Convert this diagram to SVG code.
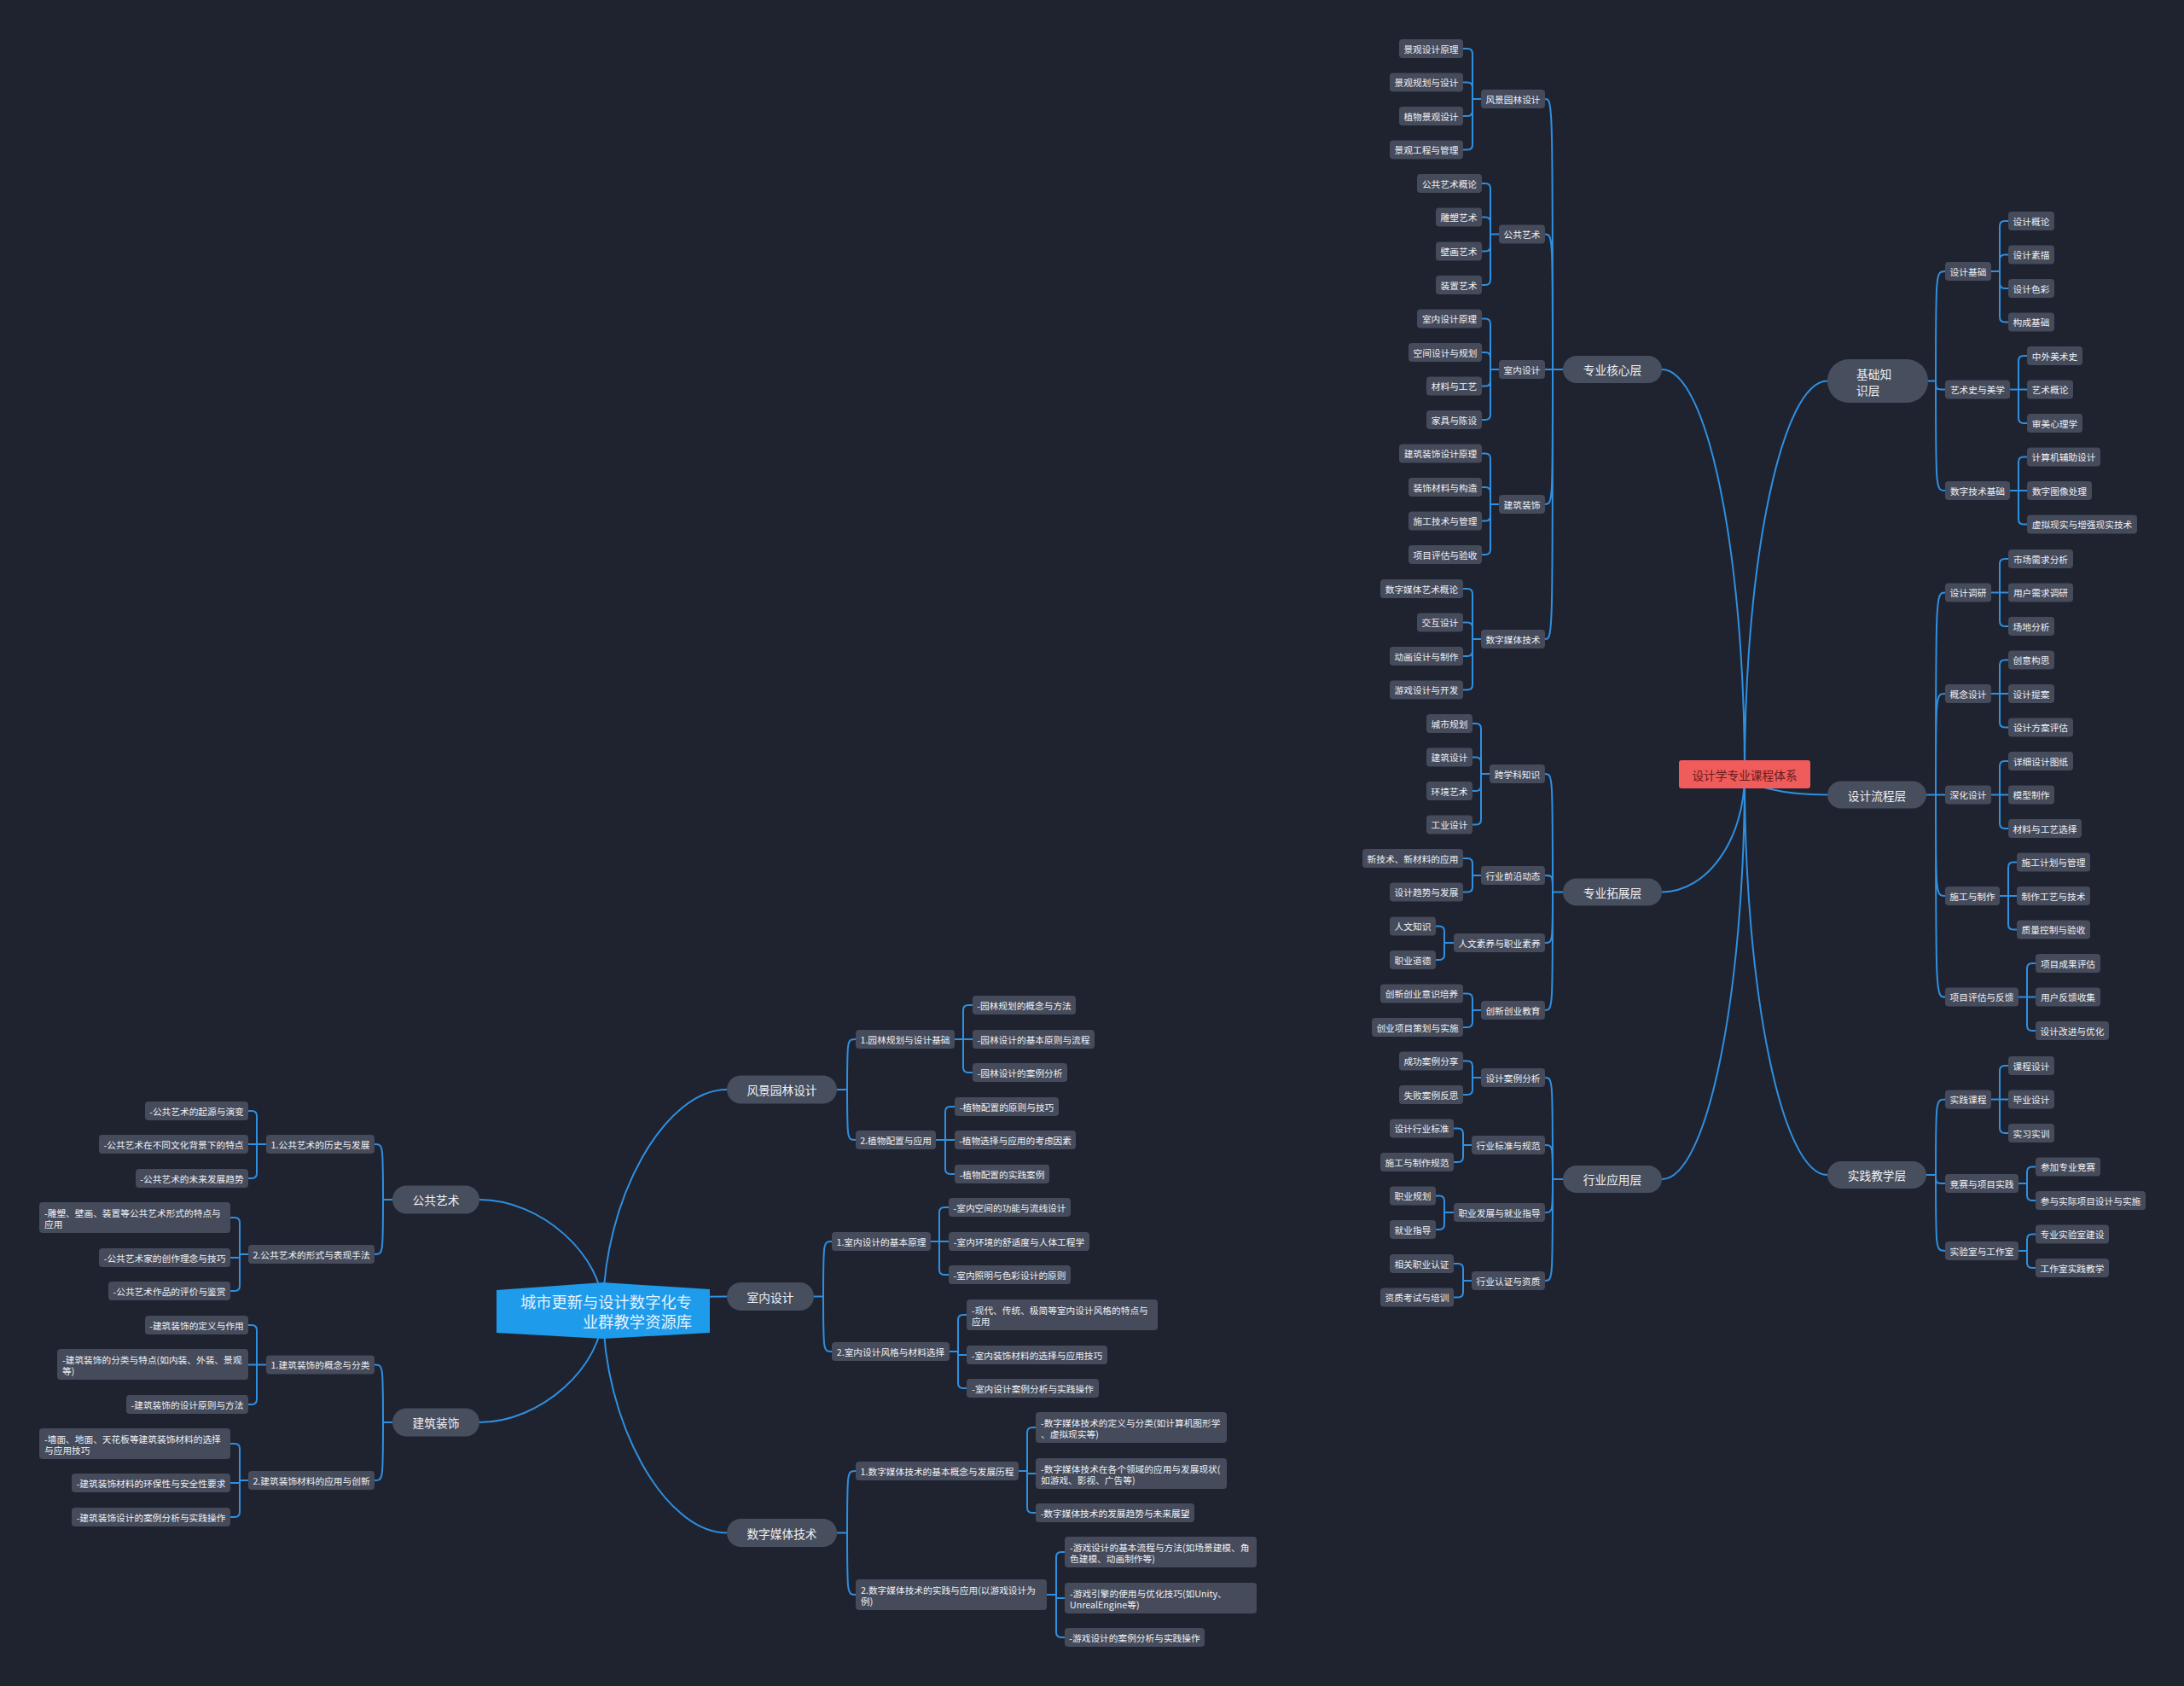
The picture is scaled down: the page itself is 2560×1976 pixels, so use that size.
<svg xmlns="http://www.w3.org/2000/svg" width="2560" height="1976" viewBox="0 0 2560 1976">
<style>
.bg{fill:#1f2330}
#connectors path{fill:none;stroke:#2f8fe0;stroke-width:2}
text{font-family:"Noto Sans CJK SC","Noto Sans",sans-serif;fill:#eef0f4;dominant-baseline:central}
.n rect,.w rect{fill:#454b5b}
.n text{font-size:10.7px;text-anchor:middle}
.w text{font-size:10.7px}
.p rect{fill:#474e5e}
.p text{font-size:13.7px;text-anchor:middle}
.pl text{font-size:13.7px}
</style>
<rect class="bg" x="0" y="0" width="2560" height="1976"/>
<g id="connectors">
<path d="M2045 907.5C2045 646 2001 433 1948 433"/>
<path d="M2045 907.5C2045 984 2001 1045.5 1948 1045.5"/>
<path d="M2045 907.5C2045 1167 2001 1382 1948 1382"/>
<path d="M2045 907.5C2045 655 2089 446.5 2142 446.5"/>
<path d="M2045 907.5C2045 921 2089 931.5 2142 931.5"/>
<path d="M2045 907.5C2045 1165 2089 1377 2142 1377"/>
<path d="M1832 433H1811M1820 433C1820 116 1820 116 1811 116M1820 433C1820 274.5 1820 274.5 1811 274.5M1820 433C1820 591 1820 591 1811 591M1820 433C1820 749 1820 749 1811 749"/>
<path d="M1832 1045.5H1820M1820 1045.5C1820 907 1820 907 1811 907M1820 1045.5C1820 1026 1820 1026 1811 1026M1820 1045.5C1820 1105 1820 1105 1811 1105M1820 1045.5C1820 1184 1820 1184 1811 1184"/>
<path d="M1832 1382H1820M1820 1382C1820 1263 1820 1263 1811 1263M1820 1382C1820 1342 1820 1342 1811 1342M1820 1382C1820 1421 1820 1421 1811 1421M1820 1382C1820 1501 1820 1501 1811 1501"/>
<path d="M2260 446.5H2269M2269 446.5C2269 318 2269 318 2280 318M2269 446.5C2269 456.5 2269 456.5 2280 456.5M2269 446.5C2269 575 2269 575 2280 575"/>
<path d="M2258 931.5H2280M2269 931.5C2269 694.5 2269 694.5 2280 694.5M2269 931.5C2269 813 2269 813 2280 813M2269 931.5C2269 1050 2269 1050 2280 1050M2269 931.5C2269 1168.5 2269 1168.5 2280 1168.5"/>
<path d="M2258 1377H2269M2269 1377C2269 1288.5 2269 1288.5 2280 1288.5M2269 1377C2269 1387 2269 1387 2280 1387M2269 1377C2269 1466 2269 1466 2280 1466"/>
<path d="M1736 116H1726M1726 116V63Q1726 57 1720 57H1715M1726 116V102.5Q1726 96.5 1720 96.5H1715M1726 116V130Q1726 136 1720 136H1715M1726 116V169.5Q1726 175.5 1720 175.5H1715"/>
<path d="M1757 274.5H1747M1747 274.5V221Q1747 215 1741 215H1737M1747 274.5V260.5Q1747 254.5 1741 254.5H1737M1747 274.5V288.5Q1747 294.5 1741 294.5H1737M1747 274.5V328Q1747 334 1741 334H1737"/>
<path d="M1757 433H1747M1747 433V379.5Q1747 373.5 1741 373.5H1737M1747 433V419Q1747 413 1741 413H1737M1747 433V446.5Q1747 452.5 1741 452.5H1737M1747 433V486Q1747 492 1741 492H1737"/>
<path d="M1757 591H1747M1747 591V537.5Q1747 531.5 1741 531.5H1737M1747 591V577Q1747 571 1741 571H1737M1747 591V604.5Q1747 610.5 1741 610.5H1737M1747 591V644Q1747 650 1741 650H1737"/>
<path d="M1736 749H1726M1726 749V696Q1726 690 1720 690H1715M1726 749V735.5Q1726 729.5 1720 729.5H1715M1726 749V763Q1726 769 1720 769H1715M1726 749V802.5Q1726 808.5 1720 808.5H1715"/>
<path d="M1746 907H1736M1736 907V854Q1736 848 1730 848H1726M1736 907V893.5Q1736 887.5 1730 887.5H1726M1736 907V921Q1736 927 1730 927H1726M1736 907V960.5Q1736 966.5 1730 966.5H1726"/>
<path d="M1736 1026H1726M1726 1026V1012Q1726 1006 1720 1006H1715M1726 1026V1039.5Q1726 1045.5 1720 1045.5H1715"/>
<path d="M1704 1105H1693M1693 1105V1091.5Q1693 1085.5 1687 1085.5H1683M1693 1105V1119Q1693 1125 1687 1125H1683"/>
<path d="M1736 1184H1726M1726 1184V1170.5Q1726 1164.5 1720 1164.5H1715M1726 1184V1198Q1726 1204 1720 1204H1715"/>
<path d="M1736 1263H1726M1726 1263V1249.5Q1726 1243.5 1720 1243.5H1715M1726 1263V1277Q1726 1283 1720 1283H1715"/>
<path d="M1725 1342H1715M1715 1342V1328.5Q1715 1322.5 1709 1322.5H1704M1715 1342V1356Q1715 1362 1709 1362H1704"/>
<path d="M1704 1421H1693M1693 1421V1407.5Q1693 1401.5 1687 1401.5H1683M1693 1421V1435Q1693 1441 1687 1441H1683"/>
<path d="M1725 1501H1715M1715 1501V1487Q1715 1481 1709 1481H1704M1715 1501V1514.5Q1715 1520.5 1709 1520.5H1704"/>
<path d="M2334 318H2344M2344 318V265Q2344 259 2350 259H2354M2344 318V304.5Q2344 298.5 2350 298.5H2354M2344 318V332Q2344 338 2350 338H2354M2344 318V371.5Q2344 377.5 2350 377.5H2354"/>
<path d="M2356 456.5H2376M2366 456.5V423Q2366 417 2372 417H2376M2366 456.5V490Q2366 496 2372 496H2376"/>
<path d="M2356 575H2376M2366 575V541.5Q2366 535.5 2372 535.5H2376M2366 575V608.5Q2366 614.5 2372 614.5H2376"/>
<path d="M2334 694.5H2354M2344 694.5V661Q2344 655 2350 655H2354M2344 694.5V728Q2344 734 2350 734H2354"/>
<path d="M2334 813H2354M2344 813V779.5Q2344 773.5 2350 773.5H2354M2344 813V846.5Q2344 852.5 2350 852.5H2354"/>
<path d="M2334 931.5H2354M2344 931.5V898Q2344 892 2350 892H2354M2344 931.5V965Q2344 971 2350 971H2354"/>
<path d="M2344 1050H2364M2354 1050V1016.5Q2354 1010.5 2360 1010.5H2364M2354 1050V1083.5Q2354 1089.5 2360 1089.5H2364"/>
<path d="M2366 1168.5H2386M2376 1168.5V1135Q2376 1129 2382 1129H2386M2376 1168.5V1202Q2376 1208 2382 1208H2386"/>
<path d="M2334 1288.5H2354M2344 1288.5V1255Q2344 1249 2350 1249H2354M2344 1288.5V1322Q2344 1328 2350 1328H2354"/>
<path d="M2366 1387H2376M2376 1387V1373.5Q2376 1367.5 2382 1367.5H2386M2376 1387V1401Q2376 1407 2382 1407H2386"/>
<path d="M2366 1466H2376M2376 1466V1452.5Q2376 1446.5 2382 1446.5H2386M2376 1466V1480Q2376 1486 2382 1486H2386"/>
<path d="M707 1536C707 1406 779 1277 852 1277"/>
<path d="M707 1536C707 1528 779 1519.5 852 1519.5"/>
<path d="M707 1536C707 1666 779 1796.5 852 1796.5"/>
<path d="M707 1536C707 1471 634 1406 562 1406"/>
<path d="M707 1536C707 1601.5 634 1667 562 1667"/>
<path d="M981 1277H993M993 1277C993 1218 993 1218 1003 1218M993 1277C993 1336 993 1336 1003 1336"/>
<path d="M954 1519.5H965M965 1519.5C965 1455 965 1455 975 1455M965 1519.5C965 1584 965 1584 975 1584"/>
<path d="M981 1796.5H993M993 1796.5C993 1724 993 1724 1003 1724M993 1796.5C993 1869 993 1869 1003 1869"/>
<path d="M460 1406H449M449 1406C449 1341 449 1341 439 1341M449 1406C449 1470 449 1470 439 1470"/>
<path d="M460 1667H449M449 1667C449 1599.5 449 1599.5 439 1599.5M449 1667C449 1735 449 1735 439 1735"/>
<path d="M1119 1218H1140M1129 1218V1184Q1129 1178 1135 1178H1140M1129 1218V1251Q1129 1257 1135 1257H1140"/>
<path d="M1097 1336H1119M1108 1336V1303Q1108 1297 1114 1297H1119M1108 1336V1370Q1108 1376 1114 1376H1119"/>
<path d="M1091 1455H1112M1101 1455V1421Q1101 1415 1107 1415H1112M1101 1455V1488Q1101 1494 1107 1494H1112"/>
<path d="M1113 1584H1123M1123 1584V1547Q1123 1541 1129 1541H1133M1123 1584V1588H1133M1123 1584V1621Q1123 1627 1129 1627H1133"/>
<path d="M1194 1724H1204M1204 1724V1679Q1204 1673 1210 1673H1214M1204 1724V1727H1214M1204 1724V1767Q1204 1773 1210 1773H1214"/>
<path d="M1227 1869H1238M1238 1869V1825Q1238 1819 1244 1819H1248M1238 1869V1873H1248M1238 1869V1913Q1238 1919 1244 1919H1248"/>
<path d="M312 1341H291M301 1341V1308Q301 1302 295 1302H291M301 1341V1375Q301 1381 295 1381H291"/>
<path d="M291 1470H281M281 1470V1433Q281 1427 275 1427H270M281 1470V1474H270M281 1470V1507Q281 1513 275 1513H270"/>
<path d="M312 1599.5H291M301 1599.5V1559Q301 1553 295 1553H291M301 1599.5V1640Q301 1646 295 1646H291"/>
<path d="M291 1735H281M281 1735V1698Q281 1692 275 1692H270M281 1735V1738H270M281 1735V1772Q281 1778 275 1778H270"/>
</g>

<!-- right mind map: root -->
<g id="root-right"><rect x="1968" y="891" width="154" height="33" rx="3" fill="#f05b5b"/><text x="2045" y="907.5" style="font-size:13.7px;text-anchor:middle;fill:#6a1c1c">设计学专业课程体系</text></g>

<!-- 专业核心层 -->
<g id="r1" class="p"><rect x="1832" y="417" width="116" height="32" rx="16"/><text x="1890" y="433">专业核心层</text></g>
<g id="r1a" class="n"><rect x="1736" y="105" width="75" height="22" rx="4"/><text x="1773.5" y="116">风景园林设计</text></g>
<g id="r1a1" class="n"><rect x="1640" y="46" width="75" height="22" rx="4"/><text x="1677.5" y="57">景观设计原理</text></g>
<g id="r1a2" class="n"><rect x="1629" y="85.5" width="86" height="22" rx="4"/><text x="1672" y="96.5">景观规划与设计</text></g>
<g id="r1a3" class="n"><rect x="1640" y="125" width="75" height="22" rx="4"/><text x="1677.5" y="136">植物景观设计</text></g>
<g id="r1a4" class="n"><rect x="1629" y="164.5" width="86" height="22" rx="4"/><text x="1672" y="175.5">景观工程与管理</text></g>
<g id="r1b" class="n"><rect x="1757" y="263.5" width="54" height="22" rx="4"/><text x="1784" y="274.5">公共艺术</text></g>
<g id="r1b1" class="n"><rect x="1661" y="204" width="76" height="22" rx="4"/><text x="1699" y="215">公共艺术概论</text></g>
<g id="r1b2" class="n"><rect x="1683" y="243.5" width="54" height="22" rx="4"/><text x="1710" y="254.5">雕塑艺术</text></g>
<g id="r1b3" class="n"><rect x="1683" y="283.5" width="54" height="22" rx="4"/><text x="1710" y="294.5">壁画艺术</text></g>
<g id="r1b4" class="n"><rect x="1683" y="323" width="54" height="22" rx="4"/><text x="1710" y="334">装置艺术</text></g>
<g id="r1c" class="n"><rect x="1757" y="422" width="54" height="22" rx="4"/><text x="1784" y="433">室内设计</text></g>
<g id="r1c1" class="n"><rect x="1661" y="362.5" width="76" height="22" rx="4"/><text x="1699" y="373.5">室内设计原理</text></g>
<g id="r1c2" class="n"><rect x="1651" y="402" width="86" height="22" rx="4"/><text x="1694" y="413">空间设计与规划</text></g>
<g id="r1c3" class="n"><rect x="1672" y="441.5" width="65" height="22" rx="4"/><text x="1704.5" y="452.5">材料与工艺</text></g>
<g id="r1c4" class="n"><rect x="1672" y="481" width="65" height="22" rx="4"/><text x="1704.5" y="492">家具与陈设</text></g>
<g id="r1d" class="n"><rect x="1757" y="580" width="54" height="22" rx="4"/><text x="1784" y="591">建筑装饰</text></g>
<g id="r1d1" class="n"><rect x="1640" y="520.5" width="97" height="22" rx="4"/><text x="1688.5" y="531.5">建筑装饰设计原理</text></g>
<g id="r1d2" class="n"><rect x="1651" y="560" width="86" height="22" rx="4"/><text x="1694" y="571">装饰材料与构造</text></g>
<g id="r1d3" class="n"><rect x="1651" y="599.5" width="86" height="22" rx="4"/><text x="1694" y="610.5">施工技术与管理</text></g>
<g id="r1d4" class="n"><rect x="1651" y="639" width="86" height="22" rx="4"/><text x="1694" y="650">项目评估与验收</text></g>
<g id="r1e" class="n"><rect x="1736" y="738" width="75" height="22" rx="4"/><text x="1773.5" y="749">数字媒体技术</text></g>
<g id="r1e1" class="n"><rect x="1618" y="679" width="97" height="22" rx="4"/><text x="1666.5" y="690">数字媒体艺术概论</text></g>
<g id="r1e2" class="n"><rect x="1661" y="718.5" width="54" height="22" rx="4"/><text x="1688" y="729.5">交互设计</text></g>
<g id="r1e3" class="n"><rect x="1629" y="758" width="86" height="22" rx="4"/><text x="1672" y="769">动画设计与制作</text></g>
<g id="r1e4" class="n"><rect x="1629" y="797.5" width="86" height="22" rx="4"/><text x="1672" y="808.5">游戏设计与开发</text></g>

<!-- 专业拓展层 -->
<g id="r2" class="p"><rect x="1832" y="1029.5" width="116" height="32" rx="16"/><text x="1890" y="1045.5">专业拓展层</text></g>
<g id="r2a" class="n"><rect x="1746" y="896" width="65" height="22" rx="4"/><text x="1778.5" y="907">跨学科知识</text></g>
<g id="r2a1" class="n"><rect x="1672" y="837" width="54" height="22" rx="4"/><text x="1699" y="848">城市规划</text></g>
<g id="r2a2" class="n"><rect x="1672" y="876.5" width="54" height="22" rx="4"/><text x="1699" y="887.5">建筑设计</text></g>
<g id="r2a3" class="n"><rect x="1672" y="916" width="54" height="22" rx="4"/><text x="1699" y="927">环境艺术</text></g>
<g id="r2a4" class="n"><rect x="1672" y="955.5" width="54" height="22" rx="4"/><text x="1699" y="966.5">工业设计</text></g>
<g id="r2b" class="n"><rect x="1736" y="1015" width="75" height="22" rx="4"/><text x="1773.5" y="1026">行业前沿动态</text></g>
<g id="r2b1" class="n"><rect x="1597" y="995" width="118" height="22" rx="4"/><text x="1656" y="1006">新技术、新材料的应用</text></g>
<g id="r2b2" class="n"><rect x="1629" y="1034.5" width="86" height="22" rx="4"/><text x="1672" y="1045.5">设计趋势与发展</text></g>
<g id="r2c" class="n"><rect x="1704" y="1094" width="107" height="22" rx="4"/><text x="1757.5" y="1105">人文素养与职业素养</text></g>
<g id="r2c1" class="n"><rect x="1629" y="1074.5" width="54" height="22" rx="4"/><text x="1656" y="1085.5">人文知识</text></g>
<g id="r2c2" class="n"><rect x="1629" y="1114" width="54" height="22" rx="4"/><text x="1656" y="1125">职业道德</text></g>
<g id="r2d" class="n"><rect x="1736" y="1173" width="75" height="22" rx="4"/><text x="1773.5" y="1184">创新创业教育</text></g>
<g id="r2d1" class="n"><rect x="1618" y="1153.5" width="97" height="22" rx="4"/><text x="1666.5" y="1164.5">创新创业意识培养</text></g>
<g id="r2d2" class="n"><rect x="1608" y="1193" width="107" height="22" rx="4"/><text x="1661.5" y="1204">创业项目策划与实施</text></g>

<!-- 行业应用层 -->
<g id="r3" class="p"><rect x="1832" y="1366" width="116" height="32" rx="16"/><text x="1890" y="1382">行业应用层</text></g>
<g id="r3a" class="n"><rect x="1736" y="1252" width="75" height="22" rx="4"/><text x="1773.5" y="1263">设计案例分析</text></g>
<g id="r3a1" class="n"><rect x="1640" y="1232.5" width="75" height="22" rx="4"/><text x="1677.5" y="1243.5">成功案例分享</text></g>
<g id="r3a2" class="n"><rect x="1640" y="1272" width="75" height="22" rx="4"/><text x="1677.5" y="1283">失败案例反思</text></g>
<g id="r3b" class="n"><rect x="1725" y="1331" width="86" height="22" rx="4"/><text x="1768" y="1342">行业标准与规范</text></g>
<g id="r3b1" class="n"><rect x="1629" y="1311.5" width="75" height="22" rx="4"/><text x="1666.5" y="1322.5">设计行业标准</text></g>
<g id="r3b2" class="n"><rect x="1618" y="1351" width="86" height="22" rx="4"/><text x="1661" y="1362">施工与制作规范</text></g>
<g id="r3c" class="n"><rect x="1704" y="1410" width="107" height="22" rx="4"/><text x="1757.5" y="1421">职业发展与就业指导</text></g>
<g id="r3c1" class="n"><rect x="1629" y="1390.5" width="54" height="22" rx="4"/><text x="1656" y="1401.5">职业规划</text></g>
<g id="r3c2" class="n"><rect x="1629" y="1430" width="54" height="22" rx="4"/><text x="1656" y="1441">就业指导</text></g>
<g id="r3d" class="n"><rect x="1725" y="1490" width="86" height="22" rx="4"/><text x="1768" y="1501">行业认证与资质</text></g>
<g id="r3d1" class="n"><rect x="1629" y="1470" width="75" height="22" rx="4"/><text x="1666.5" y="1481">相关职业认证</text></g>
<g id="r3d2" class="n"><rect x="1618" y="1509.5" width="86" height="22" rx="4"/><text x="1661" y="1520.5">资质考试与培训</text></g>

<!-- 基础知识层 -->
<g id="r4" class="pl"><rect x="2142" y="421" width="118" height="51" rx="25" fill="#474e5e"/><text x="2176" y="437.5">基础知</text><text x="2176" y="456.5">识层</text></g>
<g id="r4a" class="n"><rect x="2280" y="307" width="54" height="22" rx="4"/><text x="2307" y="318">设计基础</text></g>
<g id="r4a1" class="n"><rect x="2354" y="248" width="54" height="22" rx="4"/><text x="2381" y="259">设计概论</text></g>
<g id="r4a2" class="n"><rect x="2354" y="287.5" width="54" height="22" rx="4"/><text x="2381" y="298.5">设计素描</text></g>
<g id="r4a3" class="n"><rect x="2354" y="327" width="54" height="22" rx="4"/><text x="2381" y="338">设计色彩</text></g>
<g id="r4a4" class="n"><rect x="2354" y="366.5" width="54" height="22" rx="4"/><text x="2381" y="377.5">构成基础</text></g>
<g id="r4b" class="n"><rect x="2280" y="445.5" width="76" height="22" rx="4"/><text x="2318" y="456.5">艺术史与美学</text></g>
<g id="r4b1" class="n"><rect x="2376" y="406" width="65" height="22" rx="4"/><text x="2408.5" y="417">中外美术史</text></g>
<g id="r4b2" class="n"><rect x="2376" y="445.5" width="54" height="22" rx="4"/><text x="2403" y="456.5">艺术概论</text></g>
<g id="r4b3" class="n"><rect x="2376" y="485" width="65" height="22" rx="4"/><text x="2408.5" y="496">审美心理学</text></g>
<g id="r4c" class="n"><rect x="2280" y="564" width="76" height="22" rx="4"/><text x="2318" y="575">数字技术基础</text></g>
<g id="r4c1" class="n"><rect x="2376" y="524.5" width="86" height="22" rx="4"/><text x="2419" y="535.5">计算机辅助设计</text></g>
<g id="r4c2" class="n"><rect x="2376" y="564" width="76" height="22" rx="4"/><text x="2414" y="575">数字图像处理</text></g>
<g id="r4c3" class="n"><rect x="2376" y="603.5" width="129" height="22" rx="4"/><text x="2440.5" y="614.5">虚拟现实与增强现实技术</text></g>

<!-- 设计流程层 -->
<g id="r5" class="p"><rect x="2142" y="915.5" width="116" height="32" rx="16"/><text x="2200" y="931.5">设计流程层</text></g>
<g id="r5a" class="n"><rect x="2280" y="683.5" width="54" height="22" rx="4"/><text x="2307" y="694.5">设计调研</text></g>
<g id="r5a1" class="n"><rect x="2354" y="644" width="76" height="22" rx="4"/><text x="2392" y="655">市场需求分析</text></g>
<g id="r5a2" class="n"><rect x="2354" y="683.5" width="76" height="22" rx="4"/><text x="2392" y="694.5">用户需求调研</text></g>
<g id="r5a3" class="n"><rect x="2354" y="723" width="54" height="22" rx="4"/><text x="2381" y="734">场地分析</text></g>
<g id="r5b" class="n"><rect x="2280" y="802" width="54" height="22" rx="4"/><text x="2307" y="813">概念设计</text></g>
<g id="r5b1" class="n"><rect x="2354" y="762.5" width="54" height="22" rx="4"/><text x="2381" y="773.5">创意构思</text></g>
<g id="r5b2" class="n"><rect x="2354" y="802" width="54" height="22" rx="4"/><text x="2381" y="813">设计提案</text></g>
<g id="r5b3" class="n"><rect x="2354" y="841.5" width="76" height="22" rx="4"/><text x="2392" y="852.5">设计方案评估</text></g>
<g id="r5c" class="n"><rect x="2280" y="920.5" width="54" height="22" rx="4"/><text x="2307" y="931.5">深化设计</text></g>
<g id="r5c1" class="n"><rect x="2354" y="881" width="76" height="22" rx="4"/><text x="2392" y="892">详细设计图纸</text></g>
<g id="r5c2" class="n"><rect x="2354" y="920.5" width="54" height="22" rx="4"/><text x="2381" y="931.5">模型制作</text></g>
<g id="r5c3" class="n"><rect x="2354" y="960" width="86" height="22" rx="4"/><text x="2397" y="971">材料与工艺选择</text></g>
<g id="r5d" class="n"><rect x="2280" y="1039" width="64" height="22" rx="4"/><text x="2312" y="1050">施工与制作</text></g>
<g id="r5d1" class="n"><rect x="2364" y="999.5" width="86" height="22" rx="4"/><text x="2407" y="1010.5">施工计划与管理</text></g>
<g id="r5d2" class="n"><rect x="2364" y="1039" width="86" height="22" rx="4"/><text x="2407" y="1050">制作工艺与技术</text></g>
<g id="r5d3" class="n"><rect x="2364" y="1078.5" width="86" height="22" rx="4"/><text x="2407" y="1089.5">质量控制与验收</text></g>
<g id="r5e" class="n"><rect x="2280" y="1157.5" width="86" height="22" rx="4"/><text x="2323" y="1168.5">项目评估与反馈</text></g>
<g id="r5e1" class="n"><rect x="2386" y="1118" width="76" height="22" rx="4"/><text x="2424" y="1129">项目成果评估</text></g>
<g id="r5e2" class="n"><rect x="2386" y="1157.5" width="76" height="22" rx="4"/><text x="2424" y="1168.5">用户反馈收集</text></g>
<g id="r5e3" class="n"><rect x="2386" y="1197" width="86" height="22" rx="4"/><text x="2429" y="1208">设计改进与优化</text></g>

<!-- 实践教学层 -->
<g id="r6" class="p"><rect x="2142" y="1361" width="116" height="32" rx="16"/><text x="2200" y="1377">实践教学层</text></g>
<g id="r6a" class="n"><rect x="2280" y="1277.5" width="54" height="22" rx="4"/><text x="2307" y="1288.5">实践课程</text></g>
<g id="r6a1" class="n"><rect x="2354" y="1238" width="54" height="22" rx="4"/><text x="2381" y="1249">课程设计</text></g>
<g id="r6a2" class="n"><rect x="2354" y="1277.5" width="54" height="22" rx="4"/><text x="2381" y="1288.5">毕业设计</text></g>
<g id="r6a3" class="n"><rect x="2354" y="1317" width="54" height="22" rx="4"/><text x="2381" y="1328">实习实训</text></g>
<g id="r6b" class="n"><rect x="2280" y="1376" width="86" height="22" rx="4"/><text x="2323" y="1387">竞赛与项目实践</text></g>
<g id="r6b1" class="n"><rect x="2386" y="1356.5" width="76" height="22" rx="4"/><text x="2424" y="1367.5">参加专业竞赛</text></g>
<g id="r6b2" class="n"><rect x="2386" y="1396" width="129" height="22" rx="4"/><text x="2450.5" y="1407">参与实际项目设计与实施</text></g>
<g id="r6c" class="n"><rect x="2280" y="1455" width="86" height="22" rx="4"/><text x="2323" y="1466">实验室与工作室</text></g>
<g id="r6c1" class="n"><rect x="2386" y="1435.5" width="86" height="22" rx="4"/><text x="2429" y="1446.5">专业实验室建设</text></g>
<g id="r6c2" class="n"><rect x="2386" y="1475" width="86" height="22" rx="4"/><text x="2429" y="1486">工作室实践教学</text></g>

<!-- left mind map: center -->
<g id="root-left"><polygon points="582,1512 707,1503 832,1511 832,1562 707,1569 582,1562" fill="#1e9bea"/><text x="811" y="1525" style="font-size:18.3px;text-anchor:end;fill:#e4f2ff">城市更新与设计数字化专</text><text x="811" y="1548" style="font-size:18.3px;text-anchor:end;fill:#e4f2ff">业群教学资源库</text></g>

<g id="l1" class="p"><rect x="852" y="1260.5" width="129" height="33" rx="16.5"/><text x="916.5" y="1277">风景园林设计</text></g>
<g id="l1a" class="n"><rect x="1003" y="1207" width="116" height="22" rx="4"/><text x="1061" y="1218">1.园林规划与设计基础</text></g>
<g id="l1a1" class="n"><rect x="1140" y="1167" width="121" height="22" rx="4"/><text x="1200.5" y="1178">-园林规划的概念与方法</text></g>
<g id="l1a2" class="n"><rect x="1140" y="1207" width="143" height="22" rx="4"/><text x="1211.5" y="1218">-园林设计的基本原则与流程</text></g>
<g id="l1a3" class="n"><rect x="1140" y="1246" width="111" height="22" rx="4"/><text x="1195.5" y="1257">-园林设计的案例分析</text></g>
<g id="l1b" class="n"><rect x="1003" y="1325" width="94" height="22" rx="4"/><text x="1050" y="1336">2.植物配置与应用</text></g>
<g id="l1b1" class="n"><rect x="1119" y="1286" width="122" height="22" rx="4"/><text x="1180" y="1297">-植物配置的原则与技巧</text></g>
<g id="l1b2" class="n"><rect x="1119" y="1325" width="142" height="22" rx="4"/><text x="1190" y="1336">-植物选择与应用的考虑因素</text></g>
<g id="l1b3" class="n"><rect x="1119" y="1365" width="111" height="22" rx="4"/><text x="1174.5" y="1376">-植物配置的实践案例</text></g>

<g id="l2" class="p"><rect x="852" y="1503" width="102" height="33" rx="16.5"/><text x="903" y="1519.5">室内设计</text></g>
<g id="l2a" class="n"><rect x="975" y="1444" width="116" height="22" rx="4"/><text x="1033" y="1455">1.室内设计的基本原理</text></g>
<g id="l2a1" class="n"><rect x="1112" y="1404" width="143" height="22" rx="4"/><text x="1183.5" y="1415">-室内空间的功能与流线设计</text></g>
<g id="l2a2" class="n"><rect x="1112" y="1444" width="165" height="22" rx="4"/><text x="1194.5" y="1455">-室内环境的舒适度与人体工程学</text></g>
<g id="l2a3" class="n"><rect x="1112" y="1483" width="143" height="22" rx="4"/><text x="1183.5" y="1494">-室内照明与色彩设计的原则</text></g>
<g id="l2b" class="n"><rect x="975" y="1573" width="138" height="22" rx="4"/><text x="1044" y="1584">2.室内设计风格与材料选择</text></g>
<g id="l2b1" class="w"><rect x="1133" y="1523" width="224" height="36" rx="4"/><text x="1139" y="1535">-现代、传统、极简等室内设计风格的特点与</text><text x="1139" y="1548.3">应用</text></g>
<g id="l2b2" class="n"><rect x="1133" y="1577" width="165" height="22" rx="4"/><text x="1215.5" y="1588">-室内装饰材料的选择与应用技巧</text></g>
<g id="l2b3" class="n"><rect x="1133" y="1616" width="155" height="22" rx="4"/><text x="1210.5" y="1627">-室内设计案例分析与实践操作</text></g>

<g id="l3" class="p"><rect x="852" y="1780" width="129" height="33" rx="16.5"/><text x="916.5" y="1796.5">数字媒体技术</text></g>
<g id="l3a" class="n"><rect x="1003" y="1713" width="191" height="22" rx="4"/><text x="1098.5" y="1724">1.数字媒体技术的基本概念与发展历程</text></g>
<g id="l3a1" class="w"><rect x="1214" y="1655" width="224" height="36" rx="4"/><text x="1220" y="1667">-数字媒体技术的定义与分类(如计算机图形学</text><text x="1220" y="1680.3">、虚拟现实等)</text></g>
<g id="l3a2" class="w"><rect x="1214" y="1709" width="224" height="36" rx="4"/><text x="1220" y="1721">-数字媒体技术在各个领域的应用与发展现状(</text><text x="1220" y="1734.3">如游戏、影视、广告等)</text></g>
<g id="l3a3" class="n"><rect x="1214" y="1762" width="186" height="22" rx="4"/><text x="1307" y="1773">-数字媒体技术的发展趋势与未来展望</text></g>
<g id="l3b" class="w"><rect x="1003" y="1851" width="224" height="36" rx="4"/><text x="1009" y="1863">2.数字媒体技术的实践与应用(以游戏设计为</text><text x="1009" y="1876.3">例)</text></g>
<g id="l3b1" class="w"><rect x="1248" y="1801" width="225" height="36" rx="4"/><text x="1254" y="1813">-游戏设计的基本流程与方法(如场景建模、角</text><text x="1254" y="1826.3">色建模、动画制作等)</text></g>
<g id="l3b2" class="w"><rect x="1248" y="1855" width="225" height="36" rx="4"/><text x="1254" y="1867">-游戏引擎的使用与优化技巧(如Unity、</text><text x="1254" y="1880.3">UnrealEngine等)</text></g>
<g id="l3b3" class="n"><rect x="1248" y="1908" width="164" height="22" rx="4"/><text x="1330" y="1919">-游戏设计的案例分析与实践操作</text></g>

<g id="l4" class="p"><rect x="460" y="1389.5" width="102" height="33" rx="16.5"/><text x="511" y="1406">公共艺术</text></g>
<g id="l4a" class="n"><rect x="312" y="1330" width="127" height="22" rx="4"/><text x="375.5" y="1341">1.公共艺术的历史与发展</text></g>
<g id="l4a1" class="n"><rect x="170" y="1291" width="121" height="22" rx="4"/><text x="230.5" y="1302">-公共艺术的起源与演变</text></g>
<g id="l4a2" class="n"><rect x="116" y="1330" width="175" height="22" rx="4"/><text x="203.5" y="1341">-公共艺术在不同文化背景下的特点</text></g>
<g id="l4a3" class="n"><rect x="159" y="1370" width="132" height="22" rx="4"/><text x="225" y="1381">-公共艺术的未来发展趋势</text></g>
<g id="l4b" class="n"><rect x="291" y="1459" width="148" height="22" rx="4"/><text x="365" y="1470">2.公共艺术的形式与表现手法</text></g>
<g id="l4b1" class="w"><rect x="46" y="1409" width="224" height="36" rx="4"/><text x="52" y="1421">-雕塑、壁画、装置等公共艺术形式的特点与</text><text x="52" y="1434.3">应用</text></g>
<g id="l4b2" class="n"><rect x="116" y="1463" width="154" height="22" rx="4"/><text x="193" y="1474">-公共艺术家的创作理念与技巧</text></g>
<g id="l4b3" class="n"><rect x="127" y="1502" width="143" height="22" rx="4"/><text x="198.5" y="1513">-公共艺术作品的评价与鉴赏</text></g>

<g id="l5" class="p"><rect x="460" y="1650.5" width="102" height="33" rx="16.5"/><text x="511" y="1667">建筑装饰</text></g>
<g id="l5a" class="n"><rect x="312" y="1588.5" width="127" height="22" rx="4"/><text x="375.5" y="1599.5">1.建筑装饰的概念与分类</text></g>
<g id="l5a1" class="n"><rect x="170" y="1542" width="121" height="22" rx="4"/><text x="230.5" y="1553">-建筑装饰的定义与作用</text></g>
<g id="l5a2" class="w"><rect x="67" y="1581" width="224" height="36" rx="4"/><text x="73" y="1593">-建筑装饰的分类与特点(如内装、外装、景观</text><text x="73" y="1606.3">等)</text></g>
<g id="l5a3" class="n"><rect x="148" y="1635" width="143" height="22" rx="4"/><text x="219.5" y="1646">-建筑装饰的设计原则与方法</text></g>
<g id="l5b" class="n"><rect x="291" y="1724" width="148" height="22" rx="4"/><text x="365" y="1735">2.建筑装饰材料的应用与创新</text></g>
<g id="l5b1" class="w"><rect x="46" y="1674" width="224" height="36" rx="4"/><text x="52" y="1686">-墙面、地面、天花板等建筑装饰材料的选择</text><text x="52" y="1699.3">与应用技巧</text></g>
<g id="l5b2" class="n"><rect x="84" y="1727" width="186" height="22" rx="4"/><text x="177" y="1738">-建筑装饰材料的环保性与安全性要求</text></g>
<g id="l5b3" class="n"><rect x="84" y="1767" width="186" height="22" rx="4"/><text x="177" y="1778">-建筑装饰设计的案例分析与实践操作</text></g>
</svg>
